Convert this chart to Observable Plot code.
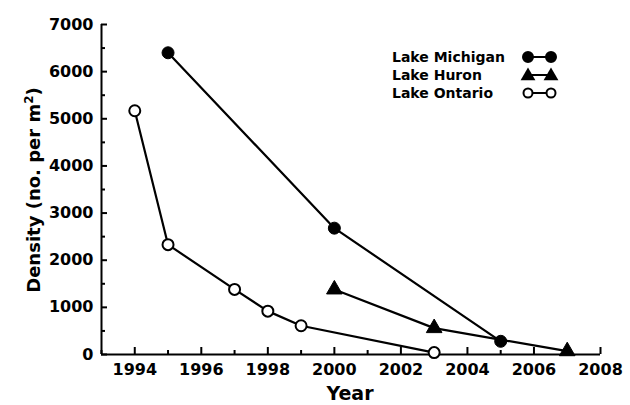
<!DOCTYPE html>
<html><head><meta charset="utf-8">
<script src="https://cdn.jsdelivr.net/npm/d3@7"></script>
<script src="https://cdn.jsdelivr.net/npm/@observablehq/plot@0.6"></script>
<style>
body{margin:0;background:#fff;}
#wrap{position:relative;width:630px;height:405px;}
#wrap svg text{font-family:"DejaVu Sans",sans-serif !important;font-weight:700 !important;fill:#000;}
#legend{position:absolute;left:392px;top:47px;}
</style></head>
<body><div id="wrap"><svg id="legend" width="180" height="60"></svg></div>
<script>
const michiganYears = [1995, 2000, 2005];
const michiganDensity = [6400, 2680, 280];
const huronYears = [2000, 2003, 2007];
const huronDensity = [1380, 560, 70];
const ontarioYears = [1994, 1995, 1997, 1998, 1999, 2003];
const ontarioDensity = [5170, 2330, 1380, 920, 610, 40];
const xMajor = [1994, 1996, 1998, 2000, 2002, 2004, 2006, 2008];
const xMinor = [1993, 1995, 1997, 1999, 2001, 2003, 2005, 2007];
const yMajor = [0, 1000, 2000, 3000, 4000, 5000, 6000, 7000];
const yMinor = [500, 1500, 2500, 3500, 4500, 5500, 6500];
const lakes = ["Lake Michigan", "Lake Huron", "Lake Ontario"];

const toRows = (lake, xs, ys) => xs.map((x, i) => ({lake, year: x, density: ys[i]}));
const mich = toRows(lakes[0], michiganYears, michiganDensity);
const huron = toRows(lakes[1], huronYears, huronDensity);
const ont = toRows(lakes[2], ontarioYears, ontarioDensity);

const font = {fontSize: 16, fontWeight: "bold", fontFamily: "DejaVu Sans"};
const chart = Plot.plot({
  width: 630, height: 405,
  marginLeft: 101, marginRight: 30, marginTop: 24, marginBottom: 51,
  style: {fontFamily: "DejaVu Sans", fontSize: "16px", fontWeight: "bold", color: "#000", background: "#fff"},
  x: {domain: [1993, 2008]},
  y: {domain: [0, 7000]},
  marks: [
    Plot.axisX({ticks: xMajor, tickSize: 0, tickPadding: 9, tickFormat: d => String(d), label: null, ...font}),
    Plot.axisX({ticks: xMajor, tickSize: -7, strokeWidth: 2, tickFormat: () => "", label: null}),
    Plot.axisX({ticks: xMinor, tickSize: -4, strokeWidth: 2, tickFormat: () => "", label: null}),
    Plot.axisY({ticks: yMajor, tickSize: 0, tickPadding: 8, tickFormat: d => String(d), label: null, ...font}),
    Plot.axisY({ticks: yMajor, tickSize: -6, strokeWidth: 2, tickFormat: () => "", label: null}),
    Plot.axisY({ticks: yMinor, tickSize: -4, strokeWidth: 2, tickFormat: () => "", label: null}),
    Plot.ruleY([0], {stroke: "#000", strokeWidth: 2}),
    Plot.ruleX([1993], {stroke: "#000", strokeWidth: 2}),
    Plot.line(mich, {x: "year", y: "density", stroke: "#000", strokeWidth: 2.2}),
    Plot.line(huron, {x: "year", y: "density", stroke: "#000", strokeWidth: 2.2}),
    Plot.line(ont, {x: "year", y: "density", stroke: "#000", strokeWidth: 2.2}),
    Plot.dot(mich, {x: "year", y: "density", r: 6, fill: "#000", stroke: "#000", strokeWidth: 1}),
    Plot.dot(huron, {x: "year", y: "density", r: 5.8, symbol: "triangle", fill: "#000", stroke: "#000", strokeWidth: 1}),
    Plot.dot(ont, {x: "year", y: "density", r: 5.5, fill: "#fff", stroke: "#000", strokeWidth: 2})
  ]
});

const svg = d3.select(chart);
svg.append("text")
  .attr("x", 350).attr("y", 400)
  .attr("text-anchor", "middle")
  .style("font-size", "19px")
  .text("Year");
const yl = svg.append("text")
  .attr("transform", "translate(40,190) rotate(-90)")
  .attr("text-anchor", "middle")
  .style("font-size", "18px");
yl.append("tspan").text("Density (no. per m");
yl.append("tspan").attr("dy", "-7").style("font-size", "12px").text("2");
yl.append("tspan").attr("dy", "7").text(")");

document.getElementById("wrap").prepend(chart);

const symbols = ["fcircle", "triangle", "ocircle"];
const leg = d3.select("#legend");
lakes.forEach((name, i) => {
  const cy = 10 + i * 18;
  leg.append("text").attr("x", 0).attr("y", cy).attr("dy", "0.35em").style("font-size", "14px").text(name);
  leg.append("line").attr("x1", 136).attr("x2", 159).attr("y1", cy).attr("y2", cy).attr("stroke", "#000").attr("stroke-width", 2);
  [136, 159].forEach(cx => {
    if (symbols[i] === "triangle") {
      leg.append("path").attr("transform", `translate(${cx},${cy + 1})`).attr("d", d3.symbol(d3.symbolTriangle, 95)()).attr("fill", "#000");
    } else {
      leg.append("circle").attr("cx", cx).attr("cy", cy).attr("r", symbols[i] === "fcircle" ? 5 : 4.5)
        .attr("fill", symbols[i] === "fcircle" ? "#000" : "#fff").attr("stroke", "#000").attr("stroke-width", 2);
    }
  });
});
</script></body></html>
